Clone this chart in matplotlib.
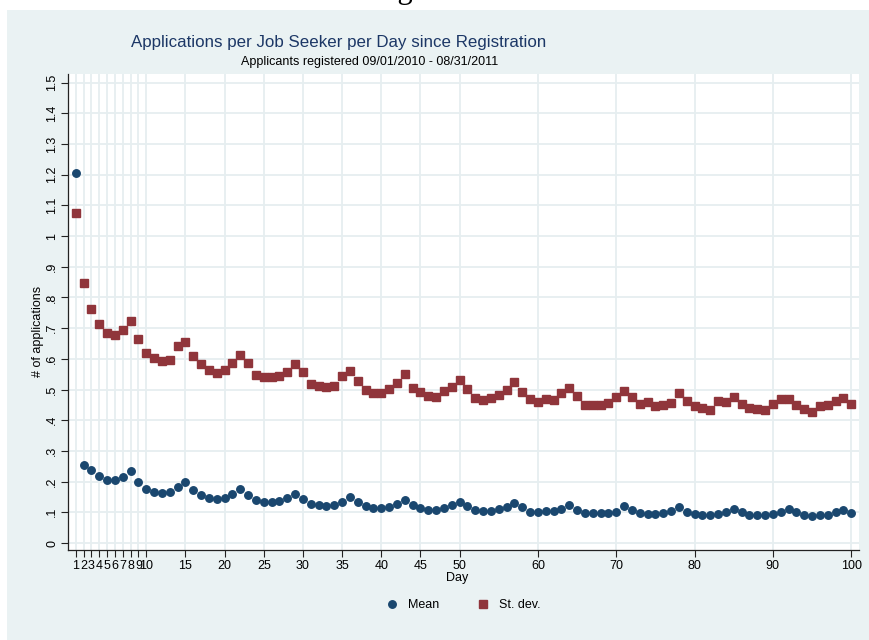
import matplotlib
matplotlib.use('Agg')

import matplotlib.pyplot as plt
from matplotlib.lines import Line2D

plt.rcParams['font.family'] = ['Liberation Sans', 'DejaVu Sans']

# days since registration
days = list(range(1, 101))

# mean applications per job seeker, by day
mean_apps = [1.205, 0.254, 0.237, 0.218, 0.205, 0.204, 0.215, 0.233, 0.199, 0.176,
             0.167, 0.164, 0.166, 0.181, 0.200, 0.174, 0.155, 0.148, 0.144, 0.147,
             0.161, 0.175, 0.157, 0.140, 0.133, 0.133, 0.138, 0.146, 0.161, 0.144,
             0.128, 0.124, 0.120, 0.124, 0.135, 0.149, 0.133, 0.120, 0.113, 0.114,
             0.118, 0.128, 0.141, 0.124, 0.113, 0.107, 0.108, 0.113, 0.123, 0.134,
             0.120, 0.107, 0.104, 0.105, 0.111, 0.118, 0.129, 0.116, 0.102, 0.101,
             0.103, 0.103, 0.112, 0.123, 0.107, 0.098, 0.097, 0.097, 0.098, 0.101,
             0.120, 0.106, 0.097, 0.093, 0.093, 0.098, 0.103, 0.117, 0.102, 0.095,
             0.092, 0.092, 0.095, 0.101, 0.112, 0.100, 0.092, 0.091, 0.091, 0.095,
             0.102, 0.111, 0.100, 0.092, 0.087, 0.092, 0.092, 0.100, 0.108, 0.099]

# standard deviation of applications, by day
sd_apps = [1.074, 0.846, 0.761, 0.712, 0.685, 0.678, 0.695, 0.724, 0.664, 0.618,
           0.604, 0.594, 0.597, 0.641, 0.656, 0.608, 0.582, 0.563, 0.554, 0.563,
           0.585, 0.613, 0.586, 0.548, 0.541, 0.540, 0.544, 0.558, 0.582, 0.557,
           0.518, 0.512, 0.507, 0.511, 0.543, 0.559, 0.527, 0.499, 0.489, 0.488,
           0.501, 0.522, 0.551, 0.506, 0.492, 0.480, 0.476, 0.496, 0.508, 0.532,
           0.501, 0.471, 0.466, 0.471, 0.482, 0.498, 0.525, 0.492, 0.468, 0.459,
           0.470, 0.465, 0.488, 0.506, 0.478, 0.449, 0.449, 0.450, 0.455, 0.477,
           0.494, 0.475, 0.454, 0.459, 0.446, 0.450, 0.457, 0.488, 0.462, 0.446,
           0.441, 0.432, 0.464, 0.458, 0.476, 0.453, 0.440, 0.435, 0.432, 0.452,
           0.468, 0.470, 0.450, 0.437, 0.426, 0.445, 0.450, 0.462, 0.471, 0.454]

x_ticks = [1, 2, 3, 4, 5, 6, 7, 8, 9, 10, 15, 20, 25, 30, 35, 40, 45, 50, 60, 70, 80, 90, 100]
y_ticks = [0, 0.1, 0.2, 0.3, 0.4, 0.5, 0.6, 0.7, 0.8, 0.9, 1.0, 1.1, 1.2, 1.3, 1.4, 1.5]
y_labels = ['0', '.1', '.2', '.3', '.4', '.5', '.6', '.7', '.8', '.9', '1', '1.1', '1.2', '1.3', '1.4', '1.5']

navy = '#1a476f'
maroon = '#90353b'
bg = '#eaf2f3'
grid = '#e6eef0'

fig = plt.figure(figsize=(8.7, 6.4), dpi=100)
fig.patch.set_facecolor('white')
# graph region (light bluish gray), leaving a white margin top and left
fig.patches.append(plt.Rectangle((7 / 870, 0), 1, 630 / 640, transform=fig.transFigure,
                                 facecolor=bg, edgecolor='none', zorder=-1))

ax = fig.add_axes([68 / 870, 90 / 640, 791 / 870, 476 / 640])
ax.set_zorder(1)
ax.set_facecolor('white')

ax.plot(days, sd_apps, linestyle='none', marker='s', ms=5.2, color=maroon, mec=maroon, zorder=3)
ax.plot(days, mean_apps, linestyle='none', marker='o', ms=5.4, color=navy, mec=navy, zorder=3)

ax.set_xlim(0, 101)
ax.set_ylim(-0.0228, 1.528)
ax.set_xticks(x_ticks)
ax.set_xticklabels([str(t) for t in x_ticks], fontsize=9)
ax.set_yticks(y_ticks)
ax.set_yticklabels(y_labels, fontsize=9, rotation=90, va='center')
ax.tick_params(axis='both', direction='out', length=5, width=0.8, color='#222222', pad=2)
ax.grid(True, color=grid, linewidth=1.3)
ax.set_axisbelow(True)

for side in ['top', 'right']:
    ax.spines[side].set_visible(False)
for side in ['left', 'bottom']:
    ax.spines[side].set_color('#222222')
    ax.spines[side].set_linewidth(0.9)

fig.text(457 / 870, 1 - 578 / 640, 'Day', ha='center', va='center', fontsize=9)
fig.text(38 / 870, 1 - 331 / 640, '# of applications', ha='center', va='center',
         rotation=90, fontsize=9)

fig.text(339 / 870, 1 - 43 / 640, 'Applications per Job Seeker per Day since Registration',
         ha='center', va='center', fontsize=12.2, color='#1c3766')
fig.text(370 / 870, 1 - 62 / 640, 'Applicants registered 09/01/2010 - 08/31/2011',
         ha='center', va='center', fontsize=9, color='black')

# caption above the graph, mostly cut off by the top edge
fig.text(428 / 870, 1 + 2 / 640, 'Figure 2:', ha='center', va='baseline',
         fontsize=22, family=['Liberation Serif', 'DejaVu Serif'])

handles = [Line2D([], [], linestyle='none', marker='o', ms=5.4, color=navy),
           Line2D([], [], linestyle='none', marker='s', ms=5.2, color=maroon)]
fig.legend(handles, ['Mean', 'St. dev.'], loc='center', bbox_to_anchor=(463 / 870, 1 - 605 / 640),
           ncol=2, frameon=False, fontsize=9, handlelength=1, handletextpad=0.8,
           columnspacing=3.0)

fig.savefig('out.png', dpi=100, facecolor=fig.get_facecolor())
